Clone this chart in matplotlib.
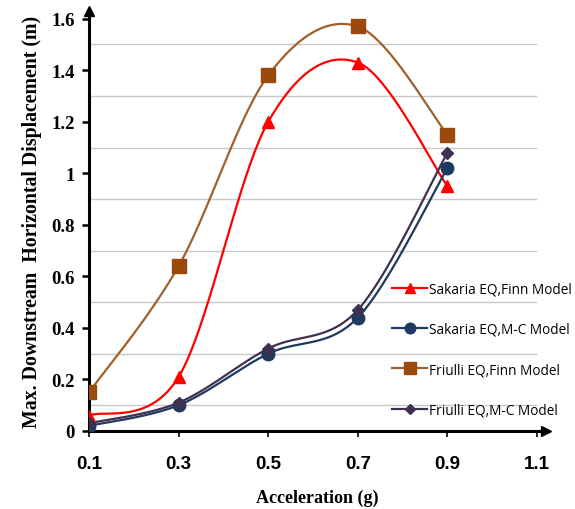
import numpy as np
import matplotlib
matplotlib.use("Agg")
import matplotlib.pyplot as plt

# accelerations and peak downstream displacements
accel = [0.1, 0.3, 0.5, 0.7, 0.9]
sakaria_finn = [0.06, 0.21, 1.20, 1.43, 0.95]
sakaria_mc = [0.02, 0.10, 0.30, 0.44, 1.02]
friulli_finn = [0.15, 0.64, 1.38, 1.57, 1.15]
friulli_mc = [0.03, 0.11, 0.32, 0.47, 1.08]

x_ticks = [0.1, 0.3, 0.5, 0.7, 0.9, 1.1]
y_ticks = [0, 0.2, 0.4, 0.6, 0.8, 1.0, 1.2, 1.4, 1.6]
y_grid = [0.1, 0.3, 0.5, 0.7, 0.9, 1.1, 1.3, 1.5]


def smooth(x, y, n=40):
    # excel style smoothed line: cubic bezier through the points
    x = np.asarray(x, float); y = np.asarray(y, float)
    px = np.concatenate([[x[0]], x, [x[-1]]])
    py = np.concatenate([[y[0]], y, [y[-1]]])
    xs, ys = [], []
    t = np.linspace(0, 1, n)
    for i in range(1, len(px) - 2):
        p0 = np.array([px[i], py[i]]); p3 = np.array([px[i + 1], py[i + 1]])
        c1 = p0 + (np.array([px[i + 1], py[i + 1]]) - np.array([px[i - 1], py[i - 1]])) / 6
        c2 = p3 - (np.array([px[i + 2], py[i + 2]]) - np.array([px[i], py[i]])) / 6
        b = (np.outer((1 - t) ** 3, p0) + np.outer(3 * (1 - t) ** 2 * t, c1)
             + np.outer(3 * (1 - t) * t ** 2, c2) + np.outer(t ** 3, p3))
        xs.append(b[:, 0]); ys.append(b[:, 1])
    return np.concatenate(xs), np.concatenate(ys)


fig = plt.figure(figsize=(5.75, 5.1), dpi=100)
ax = fig.add_axes([89 / 575, 78 / 510, (546 - 89) / 575, (432 - 12) / 510])

series = [
    ("Sakaria EQ,Finn Model", sakaria_finn, "#FF0000", "^", 9, "#FF0000"),
    ("Sakaria EQ,M-C Model", sakaria_mc, "#1F3A5F", "o", 9, "#1F3A5F"),
    ("Friulli EQ,Finn Model", friulli_finn, "#A0602A", "s", 10, "#9A4A0C"),
    ("Friulli EQ,M-C Model", friulli_mc, "#40304F", "D", 6, "#40304F"),
]

for label, vals, col, mk, ms, mcol in series:
    sx, sy = smooth(accel, vals)
    ax.plot(sx, sy, color=col, lw=1.6, zorder=3)
    ax.plot(accel, vals, ls="none", marker=mk, ms=ms, color=mcol, zorder=4)
    # legend proxy
    ax.plot([], [], color=col, lw=1.6, marker=mk, ms=ms * 0.85, mfc=mcol, mec=mcol, label=label)

ax.hlines(y_grid, 0.1, 1.1, color="#C8C8C8", lw=1.0, zorder=1)

ax.set_xlim(0.1, 1.12)
ax.set_ylim(0, 1.63)
for s in ["top", "right"]:
    ax.spines[s].set_visible(False)
for s in ["left", "bottom"]:
    ax.spines[s].set_linewidth(2.2)
ax.plot(1, 0, ">k", ms=7, transform=ax.transAxes, clip_on=False)
ax.plot(0, 1, "^k", ms=7, transform=ax.transAxes, clip_on=False)

ax.set_xticks(x_ticks)
ax.set_xticklabels([f"{v:g}" for v in x_ticks], fontfamily="Liberation Sans",
                   fontweight="bold", fontsize=13.5)
ax.set_yticks(y_ticks)
ax.set_yticklabels([f"{v:g}" for v in y_ticks], fontfamily="Liberation Serif",
                   fontweight="bold", fontsize=13.5)
ax.tick_params(axis="x", length=4, width=1.2, pad=13)
ax.tick_params(axis="y", length=5, width=1.8, pad=5)

ax.set_xlabel("Acceleration (g)", fontfamily="Liberation Serif", fontweight="bold",
              fontsize=13, labelpad=12)
ax.set_ylabel("Max. Downstream  Horizontal Displacement (m)", fontfamily="Liberation Serif",
              fontweight="bold", fontsize=14.3, labelpad=7)

ax.legend(loc="upper left", bbox_to_anchor=(385 / 575, (510 - 276) / 510),
          bbox_transform=fig.transFigure, frameon=False, borderpad=0,
          labelspacing=1.85, handlelength=2.6, handletextpad=0.1,
          prop={"family": "Open Sans", "size": 9.8})

fig.savefig("out.png", dpi=100)
